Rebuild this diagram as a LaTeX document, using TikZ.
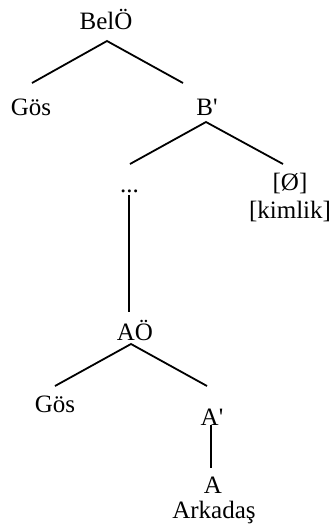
\documentclass[tikz,border=0pt]{standalone}
\usepackage{fontspec}
\setmainfont{Liberation Serif}
\begin{document}
\begin{tikzpicture}[x=1pt,y=-1pt,
  lbl/.style={anchor=base,inner sep=0pt,font=\fontsize{25}{30}\selectfont},
  branch/.style={line width=1.8pt,line cap=butt}]
\useasboundingbox (0,0) rectangle (333,528);
% labels
\node[lbl] (belo) at (106,29) {BelÖ};
\node[lbl] (gos1) at (31,115) {Gös};
\node[lbl] (bbar) at (207,115) {B\textquotesingle};
\node[lbl] (dots) at (129.5,192) {...};
\node[lbl] (empty) at (290,190) {[Ø]};
\node[lbl] (kimlik) at (290,218) {[kimlik]};
\node[lbl] (ao) at (135,340) {AÖ};
\node[lbl] (gos2) at (55,412) {Gös};
\node[lbl] (abar) at (212,425) {A\textquotesingle};
\node[lbl] (a) at (213,493) {A};
\node[lbl] (arkadas) at (214,518) {Arkadaş};
% branch points
\coordinate (t1) at (107,41);
\coordinate (l1) at (32,83);
\coordinate (r1) at (183,83);
\coordinate (t2) at (206,122);
\coordinate (l2) at (130,164);
\coordinate (r2) at (283,164);
\coordinate (v1a) at (129,195);
\coordinate (v1b) at (129,312);
\coordinate (t3) at (131,344);
\coordinate (l3) at (55,386);
\coordinate (r3) at (207,386);
\coordinate (v2a) at (211,425);
\coordinate (v2b) at (211,468);
\draw[branch] (l1) -- (t1) -- (r1);
\draw[branch] (l2) -- (t2) -- (r2);
\draw[branch] (v1a) -- (v1b);
\draw[branch] (l3) -- (t3) -- (r3);
\draw[branch] (v2a) -- (v2b);
\end{tikzpicture}
\end{document}
